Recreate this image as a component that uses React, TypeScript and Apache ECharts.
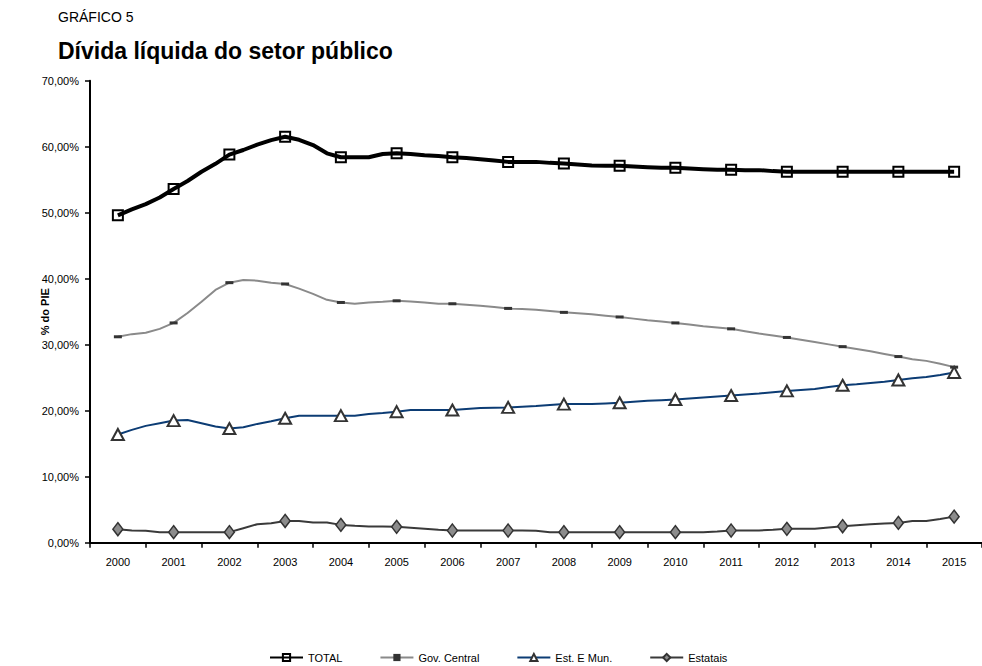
import React, { useEffect, useRef } from "react";
import * as echarts from "echarts";

// Year categories (markers sit on these)
const YEARS = [
  "2000", "2001", "2002", "2003", "2004", "2005", "2006", "2007",
  "2008", "2009", "2010", "2011", "2012", "2013", "2014", "2015",
];

// Quarterly readings (2000.00, 2000.25, ... 2015.00), % do PIB
const TOTAL = [
  49.6, 50.5, 51.3, 52.3,
  53.6, 54.8, 56.2, 57.4,
  58.8, 59.5, 60.3, 61.0,
  61.5, 61.05, 60.25, 59.0,
  58.4, 58.4, 58.4, 58.9,
  59.0, 58.9, 58.7, 58.6,
  58.4, 58.3, 58.1, 57.9,
  57.7, 57.7, 57.7, 57.55,
  57.45, 57.3, 57.15, 57.1,
  57.1, 57.0, 56.9, 56.8,
  56.8, 56.7, 56.6, 56.5,
  56.5, 56.45, 56.45, 56.3,
  56.2, 56.2, 56.2, 56.2,
  56.2, 56.2, 56.2, 56.2,
  56.2, 56.2, 56.2, 56.2,
  56.2,
];

const GOV_CENTRAL = [
  31.2, 31.6, 31.8, 32.4,
  33.3, 34.8, 36.5, 38.3,
  39.4, 39.8, 39.7, 39.4,
  39.2, 38.5, 37.7, 36.8,
  36.4, 36.2, 36.4, 36.5,
  36.65, 36.55, 36.4, 36.2,
  36.2, 36.05, 35.9, 35.7,
  35.5, 35.4, 35.3, 35.1,
  34.9, 34.75, 34.6, 34.4,
  34.2, 33.95, 33.7, 33.5,
  33.3, 33.05, 32.8, 32.6,
  32.4, 32.05, 31.7, 31.4,
  31.1, 30.75, 30.4, 30.05,
  29.7, 29.35, 29.0, 28.6,
  28.2, 27.8, 27.55, 27.1,
  26.6,
];

const EST_MUN = [
  16.4, 17.1, 17.7, 18.1,
  18.5, 18.6, 18.1, 17.6,
  17.3, 17.5, 18.0, 18.4,
  18.85, 19.25, 19.25, 19.25,
  19.25, 19.25, 19.5, 19.65,
  19.85, 20.1, 20.1, 20.1,
  20.1, 20.25, 20.4, 20.45,
  20.5, 20.6, 20.7, 20.85,
  21.0, 21.0, 21.0, 21.1,
  21.2, 21.35, 21.5, 21.6,
  21.7, 21.85, 22.0, 22.15,
  22.3, 22.45, 22.6, 22.8,
  23.0, 23.15, 23.3, 23.6,
  23.85, 24.0, 24.2, 24.4,
  24.65, 24.9, 25.1, 25.4,
  25.8,
];

const ESTATAIS = [
  2.05, 1.85, 1.8, 1.6,
  1.6, 1.6, 1.6, 1.6,
  1.6, 2.2, 2.8, 2.95,
  3.3, 3.3, 3.05, 3.05,
  2.7, 2.55, 2.45, 2.45,
  2.4, 2.25, 2.1, 1.95,
  1.85, 1.85, 1.85, 1.85,
  1.85, 1.85, 1.8, 1.6,
  1.6, 1.6, 1.6, 1.6,
  1.6, 1.6, 1.6, 1.6,
  1.6, 1.6, 1.6, 1.7,
  1.85, 1.85, 1.85, 1.95,
  2.1, 2.1, 2.1, 2.3,
  2.5, 2.65, 2.8, 2.9,
  3.0, 3.3, 3.3, 3.6,
  3.95,
];

const SERIES_NAMES = ["TOTAL", "Gov. Central", "Est. E Mun.", "Estatais"];
const Y_MIN = 0;
const Y_MAX = 70;
const Y_STEP = 10;

const FONT = "'Liberation Sans', Arial, sans-serif";

function toData(values: number[]) {
  // quarter index -> position on the year axis (category centre = year + 0.5)
  return values.map((v, i) => {
    const item: any = { value: [i / 4 + 0.5, v] };
    if (i % 4 !== 0) item.symbol = "none";
    return item;
  });
}

export default function App() {
  const ref = useRef<HTMLDivElement>(null);

  useEffect(() => {
    if (!ref.current) return;
    const chart = echarts.init(ref.current, undefined, { renderer: "svg" });

    const option: any = {
      animation: false,
      backgroundColor: "#ffffff",
      textStyle: { fontFamily: FONT },
      graphic: [
        {
          type: "text",
          left: 58,
          top: 10,
          style: { text: "GRÁFICO 5", font: `14px ${FONT}`, fill: "#000" },
        },
        {
          type: "text",
          left: 58,
          top: 39,
          style: {
            text: "Dívida líquida do setor público",
            font: `bold 23px ${FONT}`,
            fill: "#000",
          },
        },
      ],
      legend: {
        data: SERIES_NAMES,
        left: 269,
        top: 652,
        padding: 0,
        itemWidth: 33,
        itemHeight: 9,
        itemGap: 37,
        textStyle: { fontFamily: FONT, fontSize: 11, color: "#000" },
      },
      grid: { left: 90, top: 80.7, right: -11.2, bottom: 123.3, containLabel: false },
      xAxis: [
        {
          type: "value",
          min: 0,
          max: 16,
          interval: 1,
          axisLine: { show: true, lineStyle: { color: "#000", width: 2 } },
          axisTick: { show: true, length: 5, lineStyle: { color: "#000", width: 1.5 } },
          axisLabel: { show: false },
          splitLine: { show: false },
        },
        {
          type: "category",
          data: YEARS,
          boundaryGap: true,
          position: "bottom",
          axisLine: { show: false },
          axisTick: { show: false },
          axisLabel: { margin: 14, fontSize: 11, color: "#000", fontFamily: FONT },
          splitLine: { show: false },
        },
      ],
      yAxis: {
        type: "value",
        min: Y_MIN,
        max: Y_MAX,
        interval: Y_STEP,
        name: "% do PIE",
        nameLocation: "middle",
        nameGap: 40,
        nameMoveOverlap: false,
        nameTextStyle: { fontFamily: FONT, fontSize: 11, fontWeight: "bold", color: "#000" },
        axisLine: { show: true, lineStyle: { color: "#000", width: 2 } },
        axisTick: { show: true, length: 5, lineStyle: { color: "#000", width: 1.5 } },
        axisLabel: {
          margin: 11,
          fontSize: 11,
          color: "#000",
          fontFamily: FONT,
          formatter: (v: number) => v.toFixed(2).replace(".", ",") + "%",
        },
        splitLine: { show: false },
      },
      series: [
        {
          name: "TOTAL",
          type: "line",
          xAxisIndex: 0,
          data: toData(TOTAL),
          symbol: "rect",
          symbolSize: 10,
          lineStyle: { color: "#000", width: 4 },
          itemStyle: { color: "rgba(255,255,255,0)", borderColor: "#000", borderWidth: 2 },
          z: 5,
        },
        {
          name: "Gov. Central",
          type: "line",
          xAxisIndex: 0,
          data: toData(GOV_CENTRAL),
          symbol: "rect",
          symbolSize: [8, 3],
          lineStyle: { color: "#8a8a8a", width: 2 },
          itemStyle: { color: "#333333", borderWidth: 0 },
          z: 3,
        },
        {
          name: "Est. E Mun.",
          type: "line",
          xAxisIndex: 0,
          data: toData(EST_MUN),
          symbol: "triangle",
          symbolSize: [12, 11],
          lineStyle: { color: "#0c3c74", width: 2 },
          itemStyle: { color: "#ffffff", borderColor: "#333333", borderWidth: 2 },
          z: 4,
        },
        {
          name: "Estatais",
          type: "line",
          xAxisIndex: 0,
          data: toData(ESTATAIS),
          symbol: "diamond",
          symbolSize: [10, 13],
          lineStyle: { color: "#3a3a3a", width: 2 },
          itemStyle: { color: "#8c8c8c", borderColor: "#333333", borderWidth: 1.5 },
          z: 2,
        },
      ],
    };

    chart.setOption(option);
    return () => chart.dispose();
  }, []);

  return (
    <div
      ref={ref}
      style={{ position: "fixed", left: 0, top: 0, width: 982, height: 666, overflow: "hidden" }}
    />
  );
}
